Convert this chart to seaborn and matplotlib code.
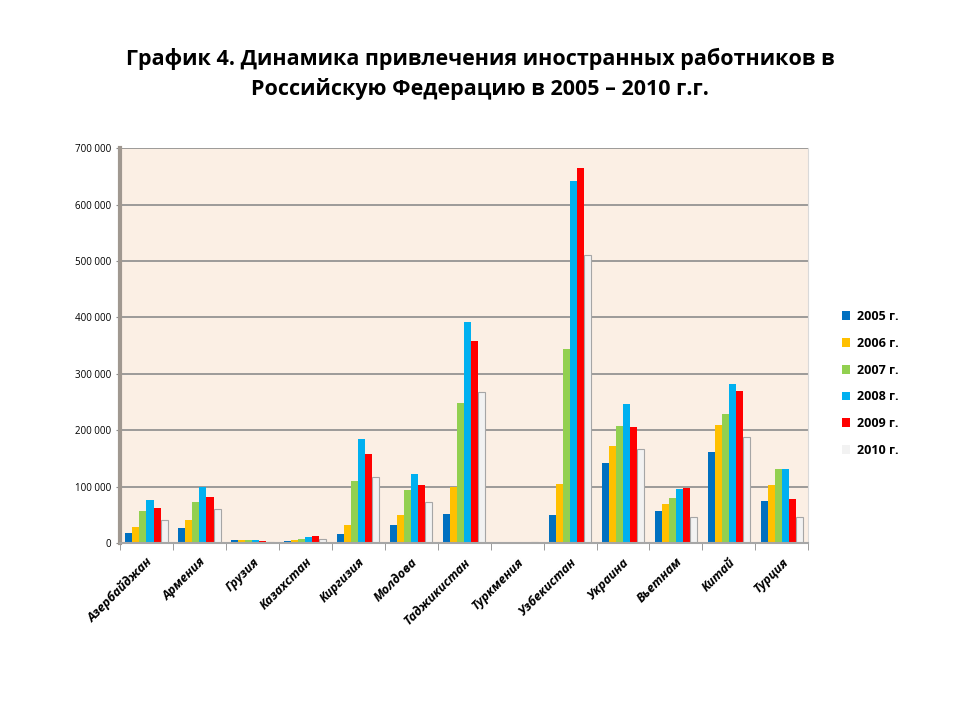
import numpy as np
import pandas as pd
import seaborn as sns
import matplotlib.pyplot as plt
from matplotlib.ticker import FuncFormatter

countries = ['Азербайджан', 'Армения', 'Грузия', 'Казахстан', 'Киргизия', 'Молдова',
             'Таджикистан', 'Туркмения', 'Узбекистан', 'Украина', 'Вьетнам', 'Китай', 'Турция']
years = ['2005 г.', '2006 г.', '2007 г.', '2008 г.', '2009 г.', '2010 г.']

v2005 = [18000, 27000, 5000, 4000, 16000, 31000, 52000, 1000, 49000, 142000, 56000, 161000, 74000]
v2006 = [28000, 40000, 5000, 5000, 32000, 50000, 99000, 1000, 105000, 171000, 69000, 210000, 102000]
v2007 = [57000, 73000, 4500, 7000, 109000, 93000, 249000, 1000, 344000, 208000, 79000, 228000, 131000]
v2008 = [76000, 100000, 4500, 11000, 184000, 122000, 391000, 1000, 642000, 246000, 95000, 281000, 131000]
v2009 = [61000, 82000, 3000, 12000, 157000, 102000, 359000, 1000, 665000, 206000, 98000, 270000, 77000]
v2010 = [40000, 60000, 1000, 6000, 117000, 72000, 268000, 1000, 511000, 167000, 46000, 187000, 46000]

colors = ['#0070C0', '#FFC000', '#92D050', '#00B0F0', '#FF0000', '#F2F2F2']

rows = []
for y, vals in zip(years, [v2005, v2006, v2007, v2008, v2009, v2010]):
    for c, v in zip(countries, vals):
        rows.append({'country': c, 'year': y, 'value': v})
df = pd.DataFrame(rows)

sns.set_style('white')
plt.rcParams['font.family'] = ['Open Sans', 'DejaVu Sans']
plt.rcParams['text.color'] = 'black'
plt.rcParams['xtick.labelcolor'] = 'black'
plt.rcParams['ytick.labelcolor'] = 'black'

fig = plt.figure(figsize=(9.6, 7.2), dpi=100)
ax = fig.add_axes([0.125, 0.246, 0.717, 0.548])
ax.set_facecolor('#FBEFE4')

sns.barplot(data=df, x='country', y='value', hue='year', palette=colors,
            width=0.8, ax=ax, edgecolor='none', saturation=1)
for p in ax.containers[-1]:
    p.set_edgecolor('#A6A6A6')
    p.set_linewidth(0.8)

ax.set_ylim(0, 700000)
ax.set_xlim(-0.5, len(countries) - 0.5)
ax.set_yticks(np.arange(0, 700001, 100000))
ax.yaxis.set_major_formatter(FuncFormatter(lambda v, pos: f'{int(v):,}'.replace(',', ' ')))
ax.grid(axis='y', color='#8C8C8C', linewidth=1.2)
ax.set_axisbelow(True)
ax.tick_params(axis='y', labelsize=7, length=3, color='#8C8C8C', left=True)
ax.set_xticks(np.arange(len(countries) + 1) - 0.5, minor=True)
ax.tick_params(axis='x', which='major', length=0, pad=9)
ax.tick_params(axis='x', which='minor', length=5, color='#8C8C8C', bottom=True)
ax.set_xticklabels(countries, rotation=45, ha='right', rotation_mode='anchor',
                   fontsize=9, fontweight='bold', fontstyle='italic')
ax.set_xlabel('')
ax.set_ylabel('')
ax.spines['top'].set_visible(False)
ax.spines['right'].set_color('#D9D9D9')
ax.spines['right'].set_linewidth(0.8)
ax.spines['left'].set_color('#A09890')
ax.spines['left'].set_linewidth(3)
ax.spines['bottom'].set_color('#A6A6A6')
ax.spines['bottom'].set_linewidth(1.5)

handles, labels = ax.get_legend_handles_labels()
ax.legend(handles, labels, loc='upper left', bbox_to_anchor=(0.865, 0.585),
          bbox_transform=fig.transFigure, frameon=False,
          handlelength=0.7, handleheight=0.7, handletextpad=0.5, labelspacing=1.1,
          prop={'weight': 'bold', 'size': 9})

fig.text(0.5, 0.897, 'График 4. Динамика привлечения иностранных работников в\n'
         'Российскую Федерацию в 2005 – 2010 г.г.',
         ha='center', va='center', fontsize=15.5, fontweight='bold', linespacing=1.45)

fig.savefig('out.png', dpi=100, facecolor='white')
